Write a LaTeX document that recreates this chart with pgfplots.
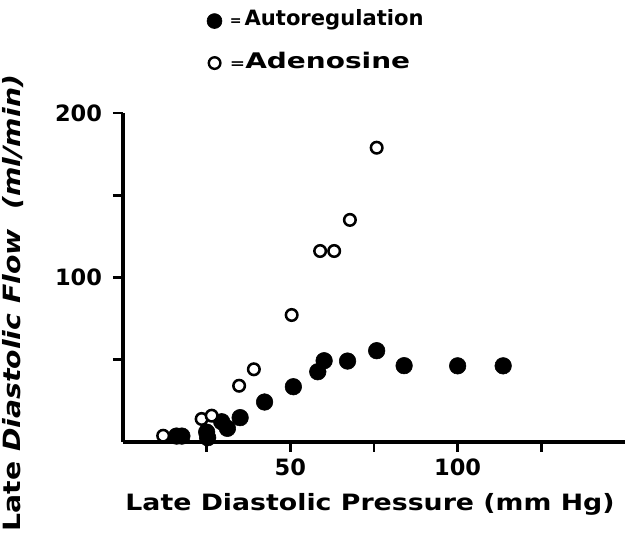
\documentclass[border=0pt]{standalone}
\usepackage{fontspec}
\setmainfont{DejaVu Sans}
\newfontfamily\wide{DejaVu Sans}[FakeStretch=1.19]
\newfontfamily\wider{DejaVu Sans}[FakeStretch=1.3]
\usepackage{pgfplots}
\usepackage{pgfplotstable}
\pgfplotsset{compat=1.18}

% late diastolic pressure (mm Hg) vs late diastolic flow (ml/min)
\pgfplotstableread{
x y
16.0 3.6
17.6 3.6
25.3 2.6
25.0 6.0
29.5 12.3
31.2 8.3
35.0 14.8
42.3 24.3
50.9 33.6
58.2 42.7
60.1 49.4
67.1 49.2
75.8 55.5
84.0 46.4
100.0 46.3
113.6 46.3
}\autoreg

\pgfplotstableread{
x y
12.0 3.8
23.5 14.0
26.5 16.0
34.7 34.2
39.1 44.2
50.4 77.2
58.9 116.1
63.1 116.1
67.8 135.0
75.8 178.9
}\adeno

\begin{document}
\begin{tikzpicture}
\useasboundingbox (-3.075,-2.35) rectangle (12.875,11.05);
\begin{axis}[
  at={(0,0)}, anchor=south west,
  scale only axis, width=12.55cm, height=8.225cm,
  xmin=0, xmax=150, ymin=0, ymax=200,
  axis lines*=left,
  axis line style={line width=2.2pt},
  xtick={25,50,75,100,125}, xticklabels={,\textbf{50},,\textbf{100},},
  ytick={50,100,150,200}, yticklabels={,\textbf{100},,\textbf{200}},
  tick align=outside, major tick length=0.25cm,
  tick style={line width=1.8pt, black},
  tick label style={font=\fontsize{16}{18}\selectfont\bfseries},
  xticklabel style={yshift=-1pt},
  yticklabel style={xshift=-0.15cm},
  clip=false,
  legend style={at={(axis cs:25.1,264.4)}, anchor=north west, draw=none, fill=none,
    inner sep=0pt, outer sep=0pt, row sep=0.525cm, column sep=0pt,
    nodes={inner sep=0pt, outer sep=0pt, anchor=base west, text height=0.45cm, text depth=0.1cm}},
  legend cell align=left,
]
\addplot[only marks, mark=*, mark size=5.9pt, mark options={fill=black, draw=black},
  legend image code/.code={
    \path[draw=none, fill=none, use as bounding box] (0cm,-0.1cm) rectangle (0.525cm,0.45cm);
    \fill[black] (0.1875cm,0.1cm) circle[radius=0.1875cm];}] table {\autoreg};
\addlegendentry{\bfseries{\fontsize{10}{10}\selectfont=}\kern2pt\fontsize{15}{16}\selectfont Autoregulation}
\addplot[only marks, mark=*, mark size=4.1pt, mark options={fill=white, draw=black, line width=1.8pt},
  legend image code/.code={
    \path[draw=none, fill=none, use as bounding box] (0cm,-0.1cm) rectangle (0.575cm,0.45cm);
    \draw[black, line width=1.7pt, fill=white] (0.19cm,0.125cm) circle[radius=0.145cm];}] table {\adeno};
\addlegendentry{\wider\bfseries{\fontsize{10}{10}\selectfont=}\fontsize{15.3}{16}\selectfont Adenosine}
\end{axis}
\node[font=\wide\bfseries\fontsize{16}{18}\selectfont, anchor=base] at (6.175,-1.725) {Late Diastolic Pressure (mm Hg)};
\node[font=\wide\bfseries\fontsize{16.9}{18}\selectfont, rotate=90, anchor=base east] at (-2.55,9.3) {Late \textit{Diastolic Flow \ (ml/min)}};
\end{tikzpicture}
\end{document}
